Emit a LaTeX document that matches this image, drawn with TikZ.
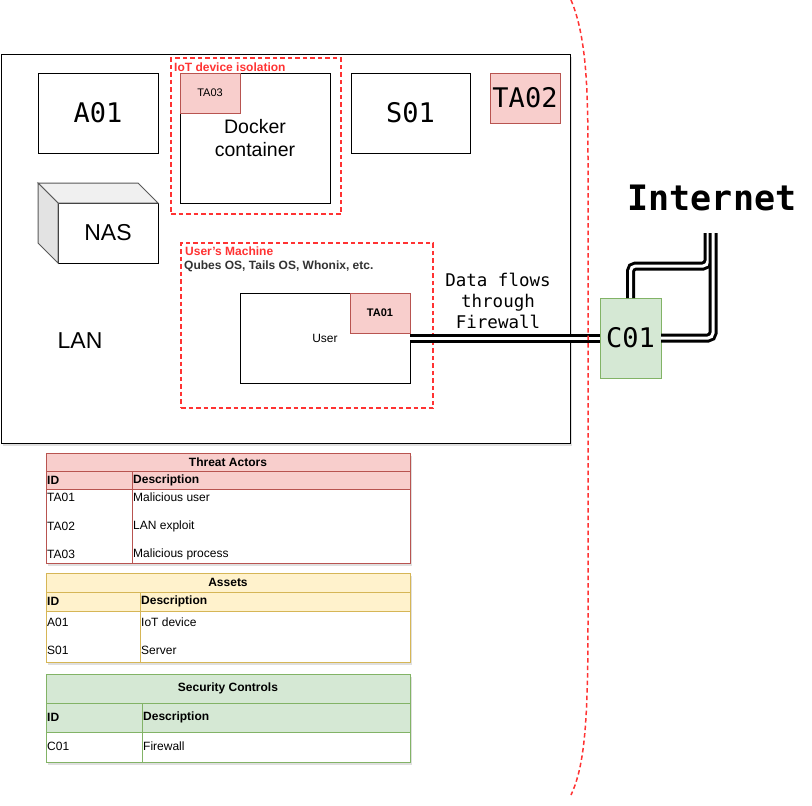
\documentclass[tikz,border=0pt]{standalone}
\usepackage{fontspec}
\setmainfont{Liberation Sans}
\newfontfamily\monofont{DejaVu Sans Mono}
\usetikzlibrary{shadows}
\definecolor{tafill}{HTML}{F8CECC}
\definecolor{taline}{HTML}{B85450}
\definecolor{afill}{HTML}{FFF2CC}
\definecolor{aline}{HTML}{D6B656}
\definecolor{cfill}{HTML}{D5E8D4}
\definecolor{cline}{HTML}{82B366}
\definecolor{zonered}{HTML}{FF3333}
\begin{document}
\begin{tikzpicture}[x=1pt,y=-1pt,
    box/.style={draw,fill=white,line width=1pt,inner sep=0pt,outer sep=0pt},
    tabox/.style={box,fill=tafill,draw=taline},
    zone/.style={draw=zonered,dash pattern=on 4.5pt off 3pt,line width=1.5pt,inner sep=0pt,outer sep=0pt},
    zlabel/.style={anchor=base west,inner sep=0pt,font=\fontsize{12}{14}\selectfont\bfseries},
    big/.style={font=\monofont\fontsize{27}{30}\selectfont},
    sans/.style={font=\fontsize{#1}{#1}\selectfont},
    pipe/.style={line width=3pt,double=white,double distance=3pt,rounded corners=5pt},
    shade/.style={drop shadow={opacity=.25,shadow xshift=2pt,shadow yshift=-3pt}},
    tframe/.style={box,shade},
    thead/.style={draw,line width=1pt,inner sep=0pt,outer sep=0pt,font=\fontsize{12}{14}\selectfont\bfseries},
    tcell/.style={anchor=west,inner sep=1pt,font=\fontsize{12}{14}\selectfont}]
    \useasboundingbox (0,0) rectangle (812,806);

    \node[box,shade,minimum width=569pt,minimum height=389pt] (LAN) at (285.5,248.5) {};
    \node[sans=23] (LANt) at (80,341) {LAN};

    \node[box,big,minimum width=120pt,minimum height=80pt] (A01) at (98,113) {A01};
    \node[box,big,minimum width=119pt,minimum height=80pt] (S01) at (410.5,113) {S01};
    \node[tabox,big,minimum width=70pt,minimum height=50pt] (TA02) at (525,98) {TA02};

    \node[zone,minimum width=170pt,minimum height=156pt] (iot) at (256,136) {};
    \node[zlabel,text=zonered] (iotl) at (174,71) {IoT device isolation};
    \node[box,sans=19.5,align=center,minimum width=150pt,minimum height=130pt,text depth=-3pt] (docker) at (255,138) {Docker\\[4pt]container};
    \node[tabox,sans=11,minimum width=60pt,minimum height=40pt] (TA03) at (210,93) {TA03};

    \node[box,sans=23,minimum width=100pt,minimum height=60pt] (NAS) at (108,233) {NAS};
    \filldraw[fill=gray!12,draw=black!65,line width=1pt] (NAS.north west) -- ++(-20,-20) -- ++(100,0) -- (NAS.north east) -- cycle;
    \filldraw[fill=gray!22,draw=black!65,line width=1pt] (NAS.north west) -- ++(-20,-20) -- ++(0,60) -- (NAS.south west) -- cycle;

    \node[zone,minimum width=252pt,minimum height=165pt] (um) at (307,325.5) {};
    \node[zlabel,text=zonered] (uml) at (185,255) {User's Machine};
    \node[zlabel,text=black!80] (umos) at (184,269) {Qubes OS, Tails OS, Whonix, etc.};
    \node[box,sans=12,minimum width=170pt,minimum height=90pt] (User) at (325,338) {User};
    \node[tabox,font=\fontsize{11}{13}\selectfont\bfseries,minimum width=60pt,minimum height=40pt] (TA01) at (380,313) {TA01};

    \node[font=\monofont\fontsize{17.5}{21}\selectfont,align=center] (flow) at (498,301) {Data flows\\through\\Firewall};
    \node[box,big,fill=cfill,draw=cline,minimum width=61pt,minimum height=80pt] (C01) at (630.5,338) {C01};
    \node[font=\monofont\fontsize{35}{40}\selectfont\bfseries] (net) at (712,198) {Internet};
    \coordinate (netA) at (708,233);
    \coordinate (netB) at (713,233);

    \draw[pipe] (User.east) -- (C01.west);
    \draw[pipe] (C01.north) -- ++(0,-32) -| (netA);
    \draw[pipe] (C01.east) -| (netB);

    \draw[zone] (571,0) .. controls (588,40) and (588,100) .. (588,170) -- (588,620) .. controls (588,720) and (585,765) .. (571,795);

    \node[tframe,draw=taline,minimum width=364pt,minimum height=110pt] (ttab) at (228,508) {};
    \node[thead,fill=tafill,draw=taline,minimum width=364pt,minimum height=18pt] (thd) at (228,462) {Threat Actors};
    \node[thead,fill=tafill,draw=taline,minimum width=364pt,minimum height=18pt] (tcol) at (228,480) {};
    \draw[taline,line width=1pt] (132,471) -- (132,563);
    \node[tcell,font=\fontsize{12}{14}\selectfont\bfseries] (tid) at (46,480) {ID};
    \node[tcell,font=\fontsize{12}{14}\selectfont\bfseries] (tds) at (132,480) {Description};
    \node[tcell] (t1) at (46,497) {TA01};
    \node[tcell] (t1d) at (132,497) {Malicious user};
    \node[tcell] (t2) at (46,526) {TA02};
    \node[tcell] (t2d) at (132,526) {LAN exploit};
    \node[tcell] (t3) at (46,554) {TA03};
    \node[tcell] (t3d) at (132,554) {Malicious process};

    \node[tframe,draw=aline,minimum width=364pt,minimum height=89pt] (atab) at (228,617.5) {};
    \node[thead,fill=afill,draw=aline,minimum width=364pt,minimum height=19pt] (ahd) at (228,582.5) {Assets};
    \node[thead,fill=afill,draw=aline,minimum width=364pt,minimum height=19pt] (acol) at (228,601.5) {};
    \draw[aline,line width=1pt] (140,592) -- (140,662);
    \node[tcell,font=\fontsize{12}{14}\selectfont\bfseries] (aid) at (46,601.5) {ID};
    \node[tcell,font=\fontsize{12}{14}\selectfont\bfseries] (ads) at (140,601.5) {Description};
    \node[tcell] (a1) at (46,622) {A01};
    \node[tcell] (a1d) at (140,622) {IoT device};
    \node[tcell] (a2) at (46,650) {S01};
    \node[tcell] (a2d) at (140,650) {Server};

    \node[tframe,draw=cline,minimum width=364pt,minimum height=88pt] (ctab) at (228,718) {};
    \node[thead,fill=cfill,draw=cline,minimum width=364pt,minimum height=29pt] (chd) at (228,688.5) {Security Controls};
    \node[thead,fill=cfill,draw=cline,minimum width=364pt,minimum height=29pt] (ccol) at (228,717.5) {};
    \draw[cline,line width=1pt] (142,703) -- (142,762);
    \node[tcell,font=\fontsize{12}{14}\selectfont\bfseries] (cid) at (46,717.5) {ID};
    \node[tcell,font=\fontsize{12}{14}\selectfont\bfseries] (cds) at (142,717.5) {Description};
    \node[tcell] (c1) at (46,746) {C01};
    \node[tcell] (c1d) at (142,746) {Firewall};
\end{tikzpicture}
\end{document}
